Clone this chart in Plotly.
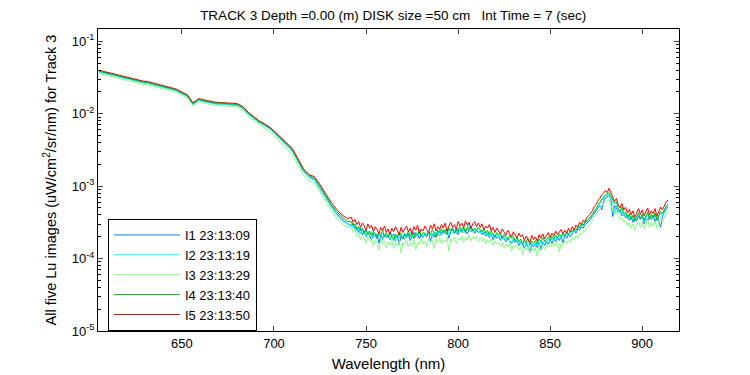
import numpy as np
import plotly.graph_objects as go

# Wavelength grid (nm): 3 nm steps in the smooth part, 1 nm steps in the noisy part
wl_smooth = np.arange(605, 741, 3)
wl_noisy = np.arange(742, 915, 1)
wavelength = np.concatenate([wl_smooth, wl_noisy])

# log10 radiance values, one list per image
I1_smooth = [
    -1.42,-1.44,-1.46,-1.48,-1.50,-1.52,-1.53,-1.55,-1.57,-1.58,
    -1.60,-1.62,-1.64,-1.66,-1.68,-1.72,-1.76,-1.87,-1.81,-1.83,
    -1.85,-1.86,-1.865,-1.87,-1.87,-1.88,-1.92,-2.00,-2.06,-2.12,
    -2.16,-2.21,-2.28,-2.35,-2.43,-2.51,-2.65,-2.79,-2.87,-2.91,
    -3.03,-3.16,-3.27,-3.38,-3.46,-3.52,
]
I1_noisy = [
    -3.55,-3.51,-3.59,-3.56,-3.64,-3.58,-3.67,-3.61,-3.70,-3.63,
    -3.68,-3.74,-3.65,-3.70,-3.66,-3.79,-3.68,-3.72,-3.66,-3.71,
    -3.67,-3.74,-3.69,-3.66,-3.72,-3.68,-3.81,-3.69,-3.73,-3.67,
    -3.71,-3.66,-3.75,-3.68,-3.64,-3.70,-3.66,-3.73,-3.67,-3.71,
    -3.65,-3.69,-3.63,-3.76,-3.66,-3.70,-3.64,-3.68,-3.62,-3.67,
    -3.61,-3.66,-3.60,-3.72,-3.63,-3.59,-3.65,-3.61,-3.67,-3.60,
    -3.64,-3.58,-3.62,-3.66,-3.60,-3.63,-3.59,-3.65,-3.61,-3.64,
    -3.62,-3.67,-3.63,-3.69,-3.65,-3.71,-3.66,-3.74,-3.68,-3.72,
    -3.70,-3.75,-3.69,-3.73,-3.77,-3.71,-3.76,-3.80,-3.73,-3.78,
    -3.75,-3.82,-3.77,-3.80,-3.86,-3.78,-3.83,-3.92,-3.80,-3.84,
    -3.79,-3.85,-3.78,-3.88,-3.77,-3.82,-3.76,-3.80,-3.74,-3.79,
    -3.73,-3.77,-3.71,-3.75,-3.70,-3.78,-3.68,-3.72,-3.66,-3.70,
    -3.66,-3.62,-3.65,-3.59,-3.61,-3.56,-3.58,-3.53,-3.51,-3.49,
    -3.46,-3.41,-3.38,-3.34,-3.30,-3.27,-3.33,-3.22,-3.16,-3.14,
    -3.13,-3.19,-3.42,-3.27,-3.30,-3.36,-3.33,-3.41,-3.38,-3.44,
    -3.40,-3.47,-3.42,-3.50,-3.44,-3.48,-3.41,-3.46,-3.40,-3.52,
    -3.44,-3.48,-3.42,-3.46,-3.40,-3.49,-3.43,-3.47,-3.57,-3.41,
    -3.36,-3.32,-3.29,
]
I2_smooth = [
    -1.425,-1.445,-1.465,-1.485,-1.505,-1.525,-1.535,-1.555,-1.575,-1.585,
    -1.605,-1.625,-1.645,-1.665,-1.685,-1.725,-1.765,-1.875,-1.815,-1.835,
    -1.855,-1.865,-1.87,-1.875,-1.875,-1.885,-1.925,-2.005,-2.065,-2.125,
    -2.165,-2.215,-2.29,-2.36,-2.44,-2.52,-2.66,-2.80,-2.88,-2.92,
    -3.04,-3.17,-3.28,-3.39,-3.47,-3.53,
]
I2_noisy = [
    -3.53,-3.58,-3.55,-3.62,-3.58,-3.66,-3.60,-3.64,-3.69,-3.62,
    -3.67,-3.63,-3.71,-3.66,-3.73,-3.67,-3.70,-3.75,-3.66,-3.71,
    -3.68,-3.73,-3.66,-3.71,-3.77,-3.68,-3.72,-3.65,-3.70,-3.74,
    -3.67,-3.71,-3.64,-3.69,-3.73,-3.66,-3.70,-3.64,-3.68,-3.72,
    -3.64,-3.68,-3.62,-3.67,-3.71,-3.63,-3.66,-3.61,-3.69,-3.64,
    -3.60,-3.66,-3.62,-3.68,-3.59,-3.64,-3.61,-3.66,-3.58,-3.63,
    -3.60,-3.65,-3.59,-3.62,-3.50,-3.61,-3.64,-3.58,-3.63,-3.60,
    -3.65,-3.61,-3.67,-3.63,-3.69,-3.64,-3.70,-3.66,-3.72,-3.67,
    -3.71,-3.68,-3.74,-3.70,-3.76,-3.71,-3.75,-3.79,-3.72,-3.77,
    -3.74,-3.80,-3.76,-3.83,-3.77,-3.81,-3.86,-3.78,-3.83,-3.79,
    -3.84,-3.78,-3.82,-3.76,-3.81,-3.74,-3.79,-3.73,-3.77,-3.72,
    -3.76,-3.70,-3.74,-3.69,-3.72,-3.67,-3.71,-3.65,-3.69,-3.64,
    -3.67,-3.60,-3.63,-3.57,-3.59,-3.54,-3.55,-3.50,-3.49,-3.46,
    -3.44,-3.40,-3.36,-3.32,-3.27,-3.24,-3.20,-3.17,-3.13,-3.12,
    -3.12,-3.18,-3.24,-3.37,-3.27,-3.34,-3.38,-3.32,-3.41,-3.37,
    -3.45,-3.40,-3.47,-3.42,-3.49,-3.43,-3.39,-3.46,-3.41,-3.49,
    -3.42,-3.38,-3.46,-3.41,-3.45,-3.39,-3.48,-3.42,-3.37,-3.40,
    -3.34,-3.30,-3.27,
]
I3_smooth = [
    -1.445,-1.465,-1.485,-1.505,-1.525,-1.545,-1.555,-1.575,-1.595,-1.605,
    -1.625,-1.645,-1.665,-1.685,-1.705,-1.745,-1.785,-1.89,-1.835,-1.855,
    -1.875,-1.885,-1.89,-1.895,-1.895,-1.905,-1.95,-2.03,-2.09,-2.15,
    -2.20,-2.25,-2.33,-2.40,-2.48,-2.57,-2.71,-2.85,-2.92,-2.96,
    -3.08,-3.21,-3.33,-3.44,-3.52,-3.57,
]
I3_noisy = [
    -3.57,-3.64,-3.60,-3.70,-3.65,-3.74,-3.68,-3.72,-3.79,-3.70,
    -3.76,-3.72,-3.83,-3.75,-3.79,-3.88,-3.74,-3.80,-3.76,-3.85,
    -3.77,-3.82,-3.75,-3.86,-3.79,-3.83,-3.76,-3.92,-3.78,-3.81,
    -3.75,-3.84,-3.78,-3.82,-3.74,-3.88,-3.77,-3.81,-3.73,-3.80,
    -3.76,-3.83,-3.72,-3.79,-3.75,-3.86,-3.73,-3.78,-3.71,-3.80,
    -3.74,-3.77,-3.70,-3.90,-3.73,-3.76,-3.70,-3.79,-3.72,-3.75,
    -3.69,-3.78,-3.71,-3.74,-3.68,-3.76,-3.70,-3.73,-3.69,-3.77,
    -3.71,-3.76,-3.72,-3.80,-3.74,-3.78,-3.73,-3.82,-3.76,-3.80,
    -3.77,-3.83,-3.78,-3.86,-3.80,-3.84,-3.79,-3.90,-3.82,-3.85,
    -3.81,-3.88,-3.84,-3.95,-3.85,-3.89,-3.83,-3.92,-3.86,-3.90,
    -3.85,-3.97,-3.84,-3.89,-3.82,-3.87,-3.80,-3.85,-3.79,-3.84,
    -3.78,-3.83,-3.77,-3.91,-3.79,-3.82,-3.75,-3.80,-3.74,-3.78,
    -3.71,-3.75,-3.68,-3.72,-3.65,-3.67,-3.61,-3.63,-3.57,-3.55,
    -3.50,-3.47,-3.43,-3.39,-3.35,-3.31,-3.28,-3.24,-3.21,-3.20,
    -3.19,-3.26,-3.31,-3.38,-3.35,-3.41,-3.46,-3.43,-3.50,-3.48,
    -3.55,-3.51,-3.58,-3.52,-3.61,-3.54,-3.49,-3.57,-3.50,-3.59,
    -3.52,-3.47,-3.57,-3.50,-3.55,-3.48,-3.58,-3.52,-3.45,-3.49,
    -3.42,-3.38,-3.34,
]
I4_smooth = [
    -1.41,-1.43,-1.45,-1.47,-1.49,-1.51,-1.52,-1.54,-1.56,-1.57,
    -1.59,-1.61,-1.63,-1.65,-1.67,-1.71,-1.75,-1.86,-1.80,-1.82,
    -1.84,-1.85,-1.855,-1.86,-1.86,-1.87,-1.91,-1.99,-2.05,-2.11,
    -2.15,-2.20,-2.27,-2.34,-2.42,-2.50,-2.64,-2.78,-2.85,-2.89,
    -3.00,-3.13,-3.25,-3.35,-3.43,-3.49,
]
I4_noisy = [
    -3.49,-3.55,-3.52,-3.60,-3.56,-3.62,-3.58,-3.65,-3.60,-3.67,
    -3.62,-3.69,-3.63,-3.66,-3.72,-3.64,-3.68,-3.62,-3.70,-3.65,
    -3.71,-3.64,-3.69,-3.75,-3.66,-3.70,-3.63,-3.68,-3.73,-3.65,
    -3.69,-3.62,-3.70,-3.65,-3.72,-3.64,-3.67,-3.61,-3.69,-3.64,
    -3.66,-3.70,-3.62,-3.67,-3.60,-3.65,-3.71,-3.61,-3.64,-3.59,
    -3.64,-3.60,-3.67,-3.58,-3.62,-3.57,-3.65,-3.59,-3.63,-3.56,
    -3.61,-3.57,-3.64,-3.56,-3.60,-3.55,-3.62,-3.58,-3.61,-3.57,
    -3.60,-3.63,-3.58,-3.65,-3.61,-3.67,-3.62,-3.66,-3.70,-3.64,
    -3.68,-3.65,-3.72,-3.67,-3.70,-3.74,-3.68,-3.72,-3.69,-3.76,
    -3.71,-3.77,-3.73,-3.80,-3.74,-3.78,-3.72,-3.81,-3.76,-3.79,
    -3.75,-3.80,-3.73,-3.77,-3.71,-3.76,-3.74,-3.70,-3.75,-3.69,
    -3.73,-3.68,-3.71,-3.66,-3.70,-3.65,-3.69,-3.63,-3.67,-3.62,
    -3.63,-3.59,-3.61,-3.56,-3.57,-3.52,-3.54,-3.49,-3.48,-3.45,
    -3.42,-3.39,-3.34,-3.31,-3.26,-3.22,-3.19,-3.15,-3.12,-3.10,
    -3.09,-3.14,-3.20,-3.24,-3.22,-3.31,-3.35,-3.29,-3.38,-3.36,
    -3.43,-3.38,-3.46,-3.40,-3.48,-3.41,-3.37,-3.45,-3.39,-3.47,
    -3.41,-3.36,-3.45,-3.39,-3.44,-3.37,-3.47,-3.40,-3.35,-3.38,
    -3.32,-3.28,-3.25,
]
I5_smooth = [
    -1.40,-1.42,-1.44,-1.46,-1.48,-1.50,-1.51,-1.53,-1.55,-1.56,
    -1.58,-1.60,-1.62,-1.64,-1.66,-1.70,-1.74,-1.85,-1.79,-1.81,
    -1.83,-1.84,-1.845,-1.85,-1.85,-1.86,-1.90,-1.98,-2.04,-2.10,
    -2.14,-2.19,-2.26,-2.33,-2.40,-2.48,-2.62,-2.76,-2.84,-2.87,
    -2.98,-3.11,-3.22,-3.32,-3.40,-3.45,
]
I5_noisy = [
    -3.43,-3.50,-3.46,-3.53,-3.49,-3.57,-3.51,-3.55,-3.61,-3.52,
    -3.58,-3.54,-3.63,-3.56,-3.60,-3.66,-3.57,-3.62,-3.55,-3.64,
    -3.59,-3.67,-3.58,-3.63,-3.56,-3.61,-3.68,-3.57,-3.64,-3.59,
    -3.55,-3.63,-3.58,-3.66,-3.56,-3.61,-3.54,-3.65,-3.59,-3.62,
    -3.55,-3.60,-3.64,-3.54,-3.59,-3.52,-3.62,-3.56,-3.60,-3.53,
    -3.58,-3.51,-3.62,-3.55,-3.50,-3.57,-3.53,-3.60,-3.49,-3.55,
    -3.51,-3.58,-3.48,-3.54,-3.50,-3.59,-3.52,-3.49,-3.56,-3.51,
    -3.57,-3.52,-3.60,-3.55,-3.58,-3.53,-3.62,-3.57,-3.64,-3.58,
    -3.62,-3.66,-3.59,-3.64,-3.68,-3.61,-3.66,-3.70,-3.63,-3.68,
    -3.72,-3.65,-3.70,-3.67,-3.75,-3.69,-3.73,-3.78,-3.68,-3.74,
    -3.70,-3.76,-3.67,-3.72,-3.66,-3.73,-3.68,-3.64,-3.71,-3.65,
    -3.69,-3.62,-3.67,-3.63,-3.60,-3.66,-3.61,-3.65,-3.58,-3.63,
    -3.56,-3.61,-3.54,-3.57,-3.50,-3.53,-3.47,-3.49,-3.43,-3.41,
    -3.37,-3.34,-3.28,-3.25,-3.20,-3.17,-3.12,-3.10,-3.06,-3.09,
    -3.03,-3.10,-3.14,-3.21,-3.17,-3.26,-3.30,-3.24,-3.33,-3.29,
    -3.37,-3.32,-3.40,-3.34,-3.43,-3.36,-3.31,-3.39,-3.33,-3.41,
    -3.35,-3.30,-3.40,-3.34,-3.38,-3.31,-3.42,-3.36,-3.29,-3.33,
    -3.26,-3.22,-3.19,
]

series_names = ["I1 23:13:09", "I2 23:13:19", "I3 23:13:29", "I4 23:13:40", "I5 23:13:50"]
series_logs = [I1_smooth + I1_noisy, I2_smooth + I2_noisy, I3_smooth + I3_noisy,
               I4_smooth + I4_noisy, I5_smooth + I5_noisy]
series_colors = ["#0080ff", "#00ffff", "#80ff80", "#00bf00", "#ff0000"]

y_tick_vals = [1e-5, 1e-4, 1e-3, 1e-2, 1e-1]
y_tick_text = ["10<sup>-5</sup>", "10<sup>-4</sup>", "10<sup>-3</sup>", "10<sup>-2</sup>", "10<sup>-1</sup>"]
y_minor_vals = [k * 10.0 ** e for e in range(-5, -1) for k in range(2, 10)] + [0.2, 0.3, 0.4, 0.5, 0.6, 0.7, 0.8, 0.9]
y_minor_vals = [v for v in y_minor_vals if v <= 10 ** -0.83]
x_tick_vals = [650, 700, 750, 800, 850, 900]

FONT = "Liberation Sans, Arial, sans-serif"

fig = go.Figure()
for name, logs, color in zip(series_names, series_logs, series_colors):
    assert len(logs) == len(wavelength), (name, len(logs), len(wavelength))
    fig.add_trace(go.Scatter(
        x=wavelength, y=10 ** np.array(logs), mode="lines", name=name,
        line=dict(color=color, width=1),
    ))

fig.update_layout(
    width=750, height=375,
    margin=dict(l=98, r=71, t=29, b=44),
    paper_bgcolor="white", plot_bgcolor="white",
    font=dict(family=FONT, size=13, color="black"),
    hovermode=False,
    title=dict(
        text="TRACK 3 Depth =0.00 (m) DISK size =50 cm\u00a0\u00a0 Int Time = 7 (sec)",
        x=0.508, xref="paper", xanchor="center",
        y=0.958, yref="container", yanchor="middle",
        font=dict(size=13.5, family=FONT),
    ),
    showlegend=True,
    legend=dict(
        x=0.017, y=0.371, xanchor="left", yanchor="top",
        bgcolor="white", bordercolor="black", borderwidth=1,
        font=dict(size=13, family=FONT), itemwidth=66,
        tracegroupgap=0,
    ),
    xaxis=dict(
        range=[604.4, 920], tickvals=x_tick_vals, ticks="inside", ticklen=5,
        showline=True, linecolor="black", linewidth=1, mirror="ticks",
        showgrid=False, zeroline=False, tickfont=dict(size=13, family=FONT),
        automargin=False,
        title=dict(text="Wavelength (nm)", font=dict(size=15, family=FONT), standoff=8),
    ),
    yaxis=dict(
        type="log", range=[-5, -0.83], tickvals=y_tick_vals, ticktext=y_tick_text,
        ticks="inside", ticklen=5,
        showline=True, linecolor="black", linewidth=1, mirror="ticks",
        showgrid=False, zeroline=False, tickfont=dict(size=13, family=FONT),
        automargin=False,
        minor=dict(tickvals=y_minor_vals, ticks="inside", ticklen=3,
                   tickcolor="black", showgrid=False),
        title=dict(text="All five Lu images (uW/cm<sup>2</sup>/sr/nm) for Track 3",
                   font=dict(size=14.5, family=FONT), standoff=11),
    ),
)

fig.write_html("out.html", config={"displayModeBar": False},
               post_script="document.body.style.margin='0';")
